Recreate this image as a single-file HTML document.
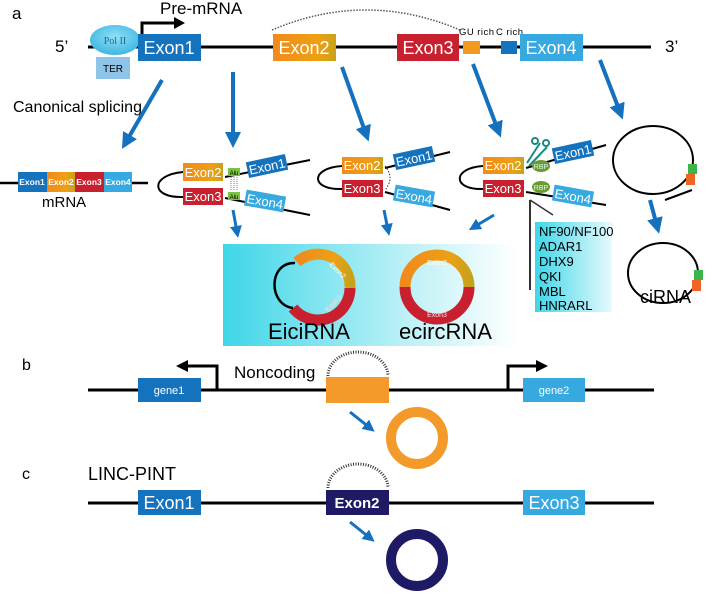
<!DOCTYPE html>
<html><head><meta charset="utf-8"><style>
html,body{margin:0;padding:0;background:#fff}
svg{display:block;font-family:"Liberation Sans",Arial,sans-serif}
</style></head><body>
<svg width="709" height="593" viewBox="0 0 709 593" xmlns="http://www.w3.org/2000/svg">
<defs>
<linearGradient id="og" x1="0" x2="1"><stop offset="0" stop-color="#f08a1c"/><stop offset="0.7" stop-color="#eea015"/><stop offset="1" stop-color="#c8a21a"/></linearGradient>
<linearGradient id="cy" x1="0" x2="1"><stop offset="0" stop-color="#3fd6e8"/><stop offset="0.6" stop-color="#b8f0f6"/><stop offset="1" stop-color="#ffffff"/></linearGradient>
<linearGradient id="cy2" x1="0" x2="1"><stop offset="0" stop-color="#3fd6e8"/><stop offset="1" stop-color="#e6fafd"/></linearGradient>
<radialGradient id="pol" cx="0.5" cy="0.4" r="0.6"><stop offset="0" stop-color="#8fe0f4"/><stop offset="1" stop-color="#3fb6e2"/></radialGradient>
<marker id="ah" markerWidth="4" markerHeight="4" refX="2" refY="2" orient="auto" markerUnits="strokeWidth"><path d="M0,0 L4,2 L0,4 Z" fill="#1570be"/></marker>
</defs>
<g font-size="17"><text x="12" y="19">a</text><text x="160" y="14">Pre-mRNA</text><text x="55" y="52">5’</text><text x="665" y="52">3’</text></g>
<line x1="88" y1="47" x2="651" y2="47" stroke="#000" stroke-width="3"/>
<path d="M272,30 Q366,-10 460,30" fill="none" stroke="#555" stroke-width="1.5" stroke-dasharray="1.5,1.5"/>
<ellipse cx="115" cy="40" rx="25" ry="15" fill="url(#pol)"/>
<text x="115" y="44" font-size="10" font-family="Liberation Serif,serif" fill="#1c6a9a" text-anchor="middle">Pol II</text>
<rect x="96" y="57" width="34" height="22" fill="#8ec4e8"/><text x="113" y="72" font-size="10" text-anchor="middle">TER</text>
<path d="M142,34 V23 H176" fill="none" stroke="#000" stroke-width="3"/><path d="M174,17 L185,23 L174,29 Z"/>
<rect x="138" y="34" width="63" height="27" fill="#1573be"/><text x="169" y="54" fill="#fff" font-size="18" text-anchor="middle">Exon1</text>
<rect x="273" y="34" width="63" height="27" fill="url(#og)"/><text x="304" y="54" fill="#fff" font-size="18" text-anchor="middle">Exon2</text>
<rect x="397" y="34" width="62" height="27" fill="#c8202e"/><text x="428" y="54" fill="#fff" font-size="18" text-anchor="middle">Exon3</text>
<rect x="463" y="41" width="17" height="13" fill="#f39a1e"/><rect x="501" y="41" width="16" height="13" fill="#1573be"/>
<text x="459" y="35" font-size="9.5" textLength="35">GU rich</text><text x="496" y="35" font-size="9.5" textLength="27">C rich</text>
<rect x="520" y="34" width="63" height="27" fill="#35a9e0"/><text x="551" y="54" fill="#fff" font-size="18" text-anchor="middle">Exon4</text>
<text x="13" y="112" font-size="16">Canonical splicing</text>
<g stroke="#1570be" stroke-width="4" marker-end="url(#ah)" fill="none">
<line x1="162" y1="80" x2="126" y2="142"/><line x1="233" y1="72" x2="233" y2="140"/>
<line x1="342" y1="67" x2="366" y2="134"/><line x1="473" y1="64" x2="498" y2="130"/>
<line x1="600" y1="60" x2="620" y2="112"/><line x1="650" y1="200" x2="657" y2="226"/>
</g>
<g stroke="#1570be" stroke-width="3" marker-end="url(#ah)" fill="none">
<line x1="233" y1="210" x2="237" y2="232"/><line x1="384" y1="210" x2="388" y2="230"/><line x1="494" y1="215" x2="474" y2="227"/>
<line x1="350" y1="412" x2="370" y2="428"/><line x1="350" y1="522" x2="370" y2="538"/>
</g>
<line x1="0" y1="183" x2="148" y2="183" stroke="#000" stroke-width="2.5"/>
<g font-size="8.5" fill="#fff" font-weight="bold" text-anchor="middle">
<rect x="18" y="172" width="29" height="20" fill="#1573be"/><text x="32" y="185">Exon1</text>
<rect x="47" y="172" width="28" height="20" fill="url(#og)"/><text x="61" y="185">Exon2</text>
<rect x="75" y="172" width="29" height="20" fill="#c8202e"/><text x="89" y="185">Exon3</text>
<rect x="104" y="172" width="28" height="20" fill="#35a9e0"/><text x="118" y="185">Exon4</text>
</g>
<text x="42" y="207" font-size="15">mRNA</text>
<g fill="none" stroke="#000" stroke-width="2">
<path d="M183,172 C150,175 150,198 183,197"/><path d="M225,177 L310,160"/><path d="M225,198 L310,215"/>
<path d="M342,166 C310,168 310,190 342,189"/><path d="M385,168 L450,152"/><path d="M385,192 L450,210"/>
<path d="M483,166 C452,168 452,190 483,189"/><path d="M526,168 L606,145"/><path d="M526,192 L606,205"/>
<ellipse cx="653" cy="160" rx="40" ry="34"/><path d="M665,200 L692,190"/>
<ellipse cx="663" cy="273" rx="35" ry="30"/>
</g>
<g font-size="13" fill="#fff" text-anchor="middle">
<rect x="183" y="163" width="40" height="18" fill="url(#og)"/><text x="203" y="177">Exon2</text>
<rect x="183" y="188" width="40" height="17" fill="#c8202e"/><text x="203" y="201">Exon3</text>
<g transform="rotate(-12 267 166)"><rect x="247" y="158" width="40" height="16" fill="#1573be"/><text x="267" y="171">Exon1</text></g>
<g transform="rotate(10 265 201)"><rect x="245" y="193" width="40" height="16" fill="#35a9e0"/><text x="265" y="206">Exon4</text></g>
<rect x="342" y="157" width="41" height="17" fill="url(#og)"/><text x="362" y="170">Exon2</text>
<rect x="342" y="180" width="41" height="17" fill="#c8202e"/><text x="362" y="193">Exon3</text>
<g transform="rotate(-12 414 158)"><rect x="394" y="150" width="40" height="16" fill="#1573be"/><text x="414" y="163">Exon1</text></g>
<g transform="rotate(10 414 196)"><rect x="394" y="188" width="40" height="16" fill="#35a9e0"/><text x="414" y="201">Exon4</text></g>
<rect x="483" y="157" width="41" height="17" fill="url(#og)"/><text x="503" y="170">Exon2</text>
<rect x="483" y="180" width="41" height="17" fill="#c8202e"/><text x="503" y="193">Exon3</text>
<g transform="rotate(-12 573 152)"><rect x="553" y="144" width="40" height="16" fill="#1573be"/><text x="573" y="157">Exon1</text></g>
<g transform="rotate(10 573 196)"><rect x="553" y="188" width="40" height="16" fill="#35a9e0"/><text x="573" y="201">Exon4</text></g>
</g>
<rect x="228" y="168" width="12" height="8" fill="#7cc242"/><rect x="228" y="192" width="12" height="8" fill="#7cc242"/>
<text x="234" y="175" font-size="6" text-anchor="middle">Alu</text><text x="234" y="199" font-size="6" text-anchor="middle">Alu</text>
<g stroke="#777" stroke-width="1" stroke-dasharray="1,1"><line x1="231" y1="177" x2="231" y2="191"/><line x1="234" y1="177" x2="234" y2="191"/><line x1="237" y1="177" x2="237" y2="191"/></g>
<path d="M385,166 Q395,178 385,190" fill="none" stroke="#333" stroke-dasharray="1.5,1.5"/>
<ellipse cx="541" cy="166" rx="9" ry="6" fill="#6a9a30"/><ellipse cx="541" cy="187" rx="9" ry="6" fill="#6a9a30"/>
<text x="541" y="169" font-size="7" fill="#dfe" text-anchor="middle">RBP</text><text x="541" y="190" font-size="7" fill="#dfe" text-anchor="middle">RBP</text>
<g stroke="#1a8a80" stroke-width="2" fill="none"><line x1="527" y1="163" x2="540" y2="143"/><line x1="529" y1="166" x2="547" y2="147"/><circle cx="535" cy="141" r="3"/><circle cx="546" cy="143" r="3"/></g>
<rect x="688" y="164" width="9" height="10" fill="#3cb54a"/><rect x="686" y="174" width="9" height="11" fill="#f06424"/>
<rect x="694" y="270" width="9" height="10" fill="#3cb54a"/><rect x="692" y="280" width="9" height="11" fill="#f06424"/>
<text x="640" y="303" font-size="18">ciRNA</text>
<line x1="530" y1="200" x2="530" y2="290" stroke="#333" stroke-width="2"/><line x1="530" y1="200" x2="553" y2="215" stroke="#333" stroke-width="1.5"/>
<rect x="535" y="222" width="77" height="90" fill="url(#cy2)"/>
<g font-size="13"><text x="539" y="236">NF90/NF100</text><text x="539" y="251">ADAR1</text><text x="539" y="266">DHX9</text><text x="539" y="281">QKI</text><text x="539" y="296">MBL</text><text x="539" y="310">HNRARL</text></g>
<rect x="223" y="244" width="294" height="102" fill="url(#cy)"/>
<path d="M297,262 A32,32 0 0 1 350,288" fill="none" stroke="url(#og)" stroke-width="11"/>
<path d="M350,288 A32,32 0 0 1 293,308" fill="none" stroke="#c8202e" stroke-width="11"/>
<path d="M295,263 C268,262 268,305 293,308" fill="none" stroke="#000" stroke-width="2.5"/>
<text x="336" y="272" font-size="7" fill="#ffe" transform="rotate(45 336 272)" text-anchor="middle">Exon2</text>
<text x="335" y="305" font-size="7" fill="#fdd" transform="rotate(-45 335 305)" text-anchor="middle">Exon3</text>
<path d="M405,287 A32,32 0 0 1 469,287" fill="none" stroke="url(#og)" stroke-width="11"/>
<path d="M469,287 A32,32 0 0 1 405,287" fill="none" stroke="#c8202e" stroke-width="11"/>
<text x="437" y="265" font-size="7" fill="#ffe" text-anchor="middle">Exon2</text><text x="437" y="317" font-size="7" fill="#fdd" text-anchor="middle">Exon3</text>
<text x="268" y="339" font-size="22">EiciRNA</text><text x="399" y="339" font-size="22">ecircRNA</text>
<text x="22" y="370" font-size="16">b</text>
<line x1="88" y1="390" x2="654" y2="390" stroke="#000" stroke-width="3"/>
<path d="M217,390 V366 H186" fill="none" stroke="#000" stroke-width="3"/><path d="M188,360 L176,366 L188,372 Z"/>
<path d="M508,390 V366 H538" fill="none" stroke="#000" stroke-width="3"/><path d="M536,360 L548,366 L536,372 Z"/>
<rect x="138" y="378" width="63" height="24" fill="#1573be"/><text x="169" y="394" fill="#fff" font-size="11" text-anchor="middle">gene1</text>
<rect x="523" y="378" width="62" height="24" fill="#35a9e0"/><text x="554" y="394" fill="#fff" font-size="11" text-anchor="middle">gene2</text>
<path d="M328,376 A30,24 0 0 1 388,376" fill="none" stroke="#333" stroke-width="3" stroke-dasharray="1,1.5"/>
<rect x="326" y="377" width="63" height="26" fill="#f39a2a"/>
<text x="234" y="378" font-size="17">Noncoding</text>
<circle cx="417" cy="438" r="26" fill="none" stroke="#f39a2a" stroke-width="10"/>
<text x="22" y="479" font-size="16">c</text><text x="88" y="480" font-size="18">LINC-PINT</text>
<line x1="88" y1="503" x2="654" y2="503" stroke="#000" stroke-width="3"/>
<path d="M328,488 A30,24 0 0 1 388,488" fill="none" stroke="#333" stroke-width="3" stroke-dasharray="1,1.5"/>
<rect x="138" y="490" width="63" height="25" fill="#1573be"/><text x="169" y="509" fill="#fff" font-size="18" text-anchor="middle">Exon1</text>
<rect x="326" y="490" width="63" height="25" fill="#1f1a66"/><text x="357" y="508" fill="#fff" font-size="15" font-weight="bold" text-anchor="middle">Exon2</text>
<rect x="523" y="490" width="62" height="25" fill="#35a9e0"/><text x="554" y="509" fill="#fff" font-size="18" text-anchor="middle">Exon3</text>
<circle cx="417" cy="560" r="26" fill="none" stroke="#1f1a66" stroke-width="10"/>
</svg>
</body></html>
